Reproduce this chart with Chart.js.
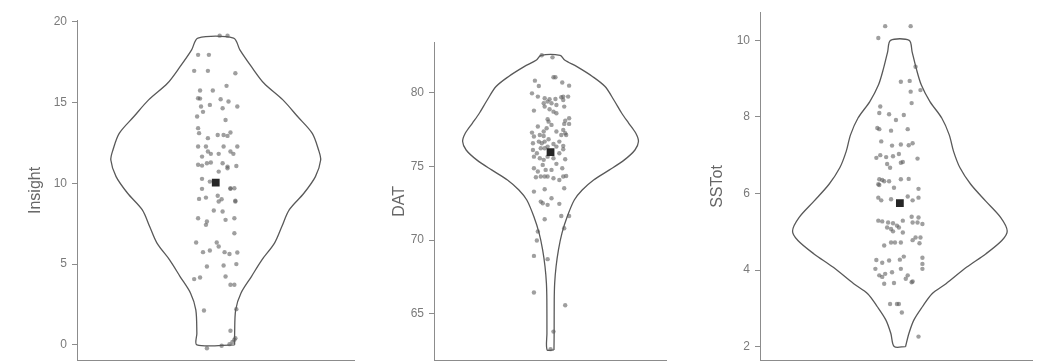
<!DOCTYPE html>
<html>
<head>
<meta charset="utf-8">
<title>violins</title>
<script src="https://cdn.jsdelivr.net/npm/chart.js"></script>
<style>
    html, body { margin: 0; background: #fff; overflow: hidden; }
    canvas { position: absolute; top: 0; }
</style>
</head>
<body>
<canvas id="insight-chart" width="360" height="363" style="left:0px"></canvas>
<canvas id="dat-chart" width="312" height="363" style="left:360px"></canvas>
<canvas id="sstot-chart" width="366" height="363" style="left:672px"></canvas>

<script>
// tick labels for each panel
var insightTicks = [0, 5, 10, 15, 20];
var datTicks = [65, 70, 75, 80];
var sstotTicks = [2, 4, 6, 8, 10];

// means (the black squares)
var insightMean = 10.05;
var datMean = 75.96;
var sstotMean = 5.75;

// violin outline: value along the axis and relative density (1 = widest)
var insightLevels = [0, 0.72, 2.17, 3.2, 4.23, 5.26, 6.3, 7.33, 8.36, 9.39, 10.42, 11.45, 12.07, 13.1, 14.14, 15.17, 16.2, 17.23, 18.27, 19];
var insightDensity = [0.18, 0.18, 0.19, 0.24, 0.34, 0.44, 0.56, 0.63, 0.70, 0.84, 0.95, 1.0, 0.98, 0.92, 0.78, 0.64, 0.46, 0.34, 0.23, 0.17];

var datLevels = [62.56, 63.69, 65.95, 67.08, 68.21, 69.34, 70.47, 71.6, 72.72, 73.4, 74.08, 74.76, 75.44, 76.11, 76.68, 77.24, 77.92, 78.6, 79.5, 80.41, 81.08, 81.76, 82.21, 82.53];
var datDensity = [0.039, 0.041, 0.042, 0.047, 0.063, 0.09, 0.13, 0.19, 0.27, 0.36, 0.49, 0.67, 0.84, 0.96, 1.0, 0.97, 0.89, 0.81, 0.72, 0.62, 0.48, 0.30, 0.16, 0.11];

var sstotLevels = [2.0, 2.34, 2.69, 3.04, 3.38, 3.64, 4.07, 4.42, 4.77, 5.02, 5.37, 5.8, 6.24, 6.67, 7.1, 7.53, 7.97, 8.4, 8.83, 9.26, 9.7, 10];
var sstotDensity = [0.053, 0.084, 0.13, 0.21, 0.30, 0.43, 0.62, 0.80, 0.95, 1.0, 0.94, 0.80, 0.66, 0.56, 0.50, 0.46, 0.39, 0.28, 0.20, 0.153, 0.114, 0.087];

// jittered raw points: [jitter, value]
var insightPoints = [[4,19.15],[12,19.15],[-18,17.96],[-7,17.96],[-22,16.97],[-8,16.97],[20,16.82],[-16,15.75],[-3,15.75],[11,16.04],
    [-18,15.27],[-16,15.25],[5,15.21],[13,15.07],[-15,14.76],[-6,14.86],[7,14.65],[22,14.76],[-19,14.14],[-13,14.43],
    [10,13.93],[-18,13.42],[-17,13.11],[2,13.0],[8,13.0],[15,13.15],[12,12.94],[-8,12.8],[-18,12.28],[-10,12.28],
    [8,12.28],[22,12.28],[-14,11.66],[-8,11.97],[-5,11.83],[3,11.83],[15,11.97],[18,11.83],[-18,11.15],[-14,11.1],
    [-9,11.25],[-5,11.29],[7,11.25],[12,11.04],[21,11.08],[-14,10.28],[3,10.73],[12,10.94],[-14,9.66],[19,9.7],
    [-6,10.11],[-17,9.04],[2,9.23],[6,9.02],[15,9.7],[15,9.66],[-10,9.12],[3,8.88],[20,8.92],[20,8.88],
    [-2,8.32],[7,8.26],[19,7.84],[-18,7.84],[-9,7.64],[-10,7.43],[10,7.74],[19,6.91],[-20,6.34],[1,6.34],
    [3,6.09],[-13,5.74],[-6,5.84],[9,5.74],[14,5.63],[22,5.72],[-9,4.85],[8,4.91],[21,5.0],[-22,4.07],
    [-16,4.17],[10,4.23],[15,3.72],[19,3.72],[-12,2.13],[21,2.21],[15,0.87],[19,0.31],[20,0.41],[17,0.17],
    [-9,-0.21],[6,-0.06],[14,0.04]];

var datPoints = [[-9,82.53],[2,82.39],[-16,80.81],[-12,80.45],[3,81.04],[5,81.04],[12,80.68],[19,80.47],[-19,79.95],[-13,79.73],
    [-6,79.62],[-1,79.55],[5,79.57],[11,79.68],[13,79.73],[18,79.73],[-7,79.28],[-3,79.39],[1,79.28],[6,79.16],
    [13,79.5],[14,79.05],[-17,78.78],[-6,79.05],[-1,78.87],[3,78.71],[19,78.26],[15,78.1],[-3,78.19],[-2,78.03],
    [6,78.6],[1,77.81],[14,77.88],[19,77.88],[-13,77.7],[-4,77.58],[-7,77.36],[-19,77.29],[-17,77.02],[-11,77.13],
    [-7,77.06],[6,77.36],[11,77.13],[15,77.24],[13,77.47],[-18,76.57],[-12,76.68],[-9,76.57],[-6,76.68],[-2,76.84],
    [3,76.52],[9,76.68],[13,76.39],[16,77.13],[-18,76.11],[-14,75.89],[-10,76.23],[-6,76.23],[-3,76.34],[6,76.34],
    [13,76.16],[-17,75.66],[-11,75.55],[-7,75.44],[-3,75.66],[3,75.55],[9,75.89],[15,75.48],[-17,74.87],[-13,74.65],
    [-8,75.1],[-5,74.76],[1,74.76],[6,75.17],[12,74.87],[-15,74.26],[-10,74.31],[-6,74.31],[-3,74.31],[3,74.19],
    [9,74.08],[13,74.31],[16,74.35],[-17,73.29],[-6,73.45],[1,72.84],[9,72.46],[14,73.52],[-8,72.5],[-3,72.39],
    [-10,72.61],[-6,71.42],[11,71.64],[19,71.64],[-13,70.58],[14,70.81],[-14,69.97],[-17,68.93],[-3,68.71],[-17,66.45],
    [15,65.59],[3,63.8],[0,62.61]];

var sstotPoints = [[-15,10.37],[11,10.37],[-22,10.06],[16,9.31],[1,8.92],[10,8.94],[11,8.66],[21,8.7],[12,8.36],[-20,8.27],
    [-21,8.1],[-11,8.07],[4,8.05],[-4,7.92],[-23,7.71],[-21,7.68],[-9,7.64],[8,7.68],[-19,7.36],[-8,7.25],
    [1,7.28],[9,7.26],[13,7.31],[-24,6.93],[-20,7.0],[-14,6.95],[-7,6.97],[-1,7.03],[18,6.91],[-13,6.77],
    [1,6.8],[3,6.82],[-10,6.67],[-21,6.37],[-18,6.35],[-11,6.32],[-6,6.15],[1,6.37],[9,6.38],[19,6.12],
    [-22,6.24],[-21,6.22],[-16,6.32],[-22,5.89],[-19,5.82],[-9,5.85],[8,5.92],[13,5.82],[19,5.89],[-22,5.29],
    [-18,5.27],[-12,5.24],[-7,5.22],[-1,5.11],[3,5.29],[12,5.39],[19,5.37],[23,5.2],[-13,5.11],[-9,5.07],
    [-7,5.01],[-3,5.16],[3,4.98],[13,5.24],[18,5.24],[-16,4.64],[-9,4.72],[-5,4.72],[1,4.72],[13,4.78],
    [16,4.85],[20,4.7],[21,4.85],[-24,4.26],[-18,4.19],[-11,4.25],[0,4.27],[4,4.35],[23,4.32],[23,4.16],
    [-25,4.03],[-21,3.86],[-15,3.9],[-8,3.94],[1,4.03],[8,3.86],[23,4.03],[-16,3.64],[-6,3.66],[12,3.68],
    [13,3.7],[6,3.77],[-18,3.82],[-10,3.11],[-1,3.11],[2,2.89],[-3,3.11],[19,2.26]];

var AXIS_BOTTOM = 361;   // where the x axis line sits in the window

makeAll();

function makeAll() {
    makeViolin("insight-chart", {
        title: "Insight", ticks: insightTicks, mean: insightMean,
        levels: insightLevels, density: insightDensity, points: insightPoints,
        yMin: -0.99, yMax: 20.12, xMin: -141.5, xMax: 141.5,
        halfWidth: 107, axisWidth: 77, top: 20, titlePad: 26
    });
    makeViolin("dat-chart", {
        title: "DAT", ticks: datTicks, mean: datMean,
        levels: datLevels, density: datDensity, points: datPoints,
        yMin: 61.82, yMax: 83.43, xMin: -119.3, xMax: 118.7,
        halfWidth: 90, axisWidth: 74, top: 42, titlePad: 30
    });
    makeViolin("sstot-chart", {
        title: "SSTot", ticks: sstotTicks, mean: sstotMean,
        levels: sstotLevels, density: sstotDensity, points: sstotPoints,
        yMin: 1.628, yMax: 10.735, xMin: -142.7, xMax: 135.3,
        halfWidth: 109.5, axisWidth: 88, top: 10, titlePad: 36
    });
}

function makeViolin(id, p) {
    var cnv = document.getElementById(id);
    var chart = new Chart(cnv, violinConfig(p));

    // chart.js keeps room for half a tick label below the y axis,
    // so grow the canvas (the window crops it) until the x axis lands at the bottom
    var gap = Math.round(AXIS_BOTTOM - chart.chartArea.bottom);
    if (gap !== 0) {
        var h = cnv.height + gap;
        chart.destroy();
        cnv.height = h;
        cnv.style.height = h + "px";
        chart = new Chart(cnv, violinConfig(p));
    }
    return chart;
}

function violinConfig(p) {
    // closed outline: up the right side, back down the left side
    var outline = [];
    for (var i = 0; i < p.levels.length; i++)
        outline.push({x: p.density[i] * p.halfWidth, y: p.levels[i]});
    for (var j = p.levels.length - 1; j >= 0; j--)
        outline.push({x: -p.density[j] * p.halfWidth, y: p.levels[j]});
    outline.push(outline[0]);

    var dots = p.points.map(function (d) { return {x: d[0], y: d[1]}; });

    return {
        type: 'scatter',
        data: {
            datasets: [
                {   // mean marker on top
                    data: [{x: 0, y: p.mean}],
                    pointStyle: 'rect',
                    pointRadius: 5.5,
                    backgroundColor: '#262626',
                    borderWidth: 0
                },
                {
                    data: dots,
                    pointRadius: 2.2,
                    backgroundColor: 'rgba(90,90,90,0.58)',
                    borderWidth: 0
                },
                {
                    data: outline,
                    showLine: true,
                    fill: false,
                    pointRadius: 0,
                    borderColor: '#595959',
                    borderWidth: 1.3,
                    tension: 0.3
                }
            ]
        },
        options: {
            responsive: false,
            animation: false,
            events: [],
            layout: {padding: {top: p.top, left: 0, right: 0, bottom: 0}},
            plugins: {legend: {display: false}, tooltip: {enabled: false}},
            scales: {
                x: {
                    type: 'linear',
                    min: p.xMin,
                    max: p.xMax,
                    ticks: {display: false},
                    grid: {display: false},
                    border: {display: true, color: '#8c8c8c', width: 1},
                    afterFit: function (s) { s.height = 2; }
                },
                y: {
                    type: 'linear',
                    min: p.yMin,
                    max: p.yMax,
                    afterBuildTicks: function (s) {
                        s.ticks = p.ticks.map(function (v) { return {value: v}; });
                    },
                    afterFit: function (s) { s.width = p.axisWidth; },
                    grid: {display: true, drawOnChartArea: false, drawTicks: true, tickLength: 5, color: '#8c8c8c'},
                    border: {display: true, color: '#8c8c8c', width: 1},
                    ticks: {
                        color: '#7a7a7a',
                        padding: 5,
                        font: {family: 'Liberation Sans', size: 12}
                    },
                    title: {
                        display: true,
                        text: p.title,
                        color: '#666',
                        font: {family: 'Liberation Sans', size: 16},
                        padding: {top: p.titlePad, bottom: 0}
                    }
                }
            }
        }
    };
}
</script>
</body>
</html>
